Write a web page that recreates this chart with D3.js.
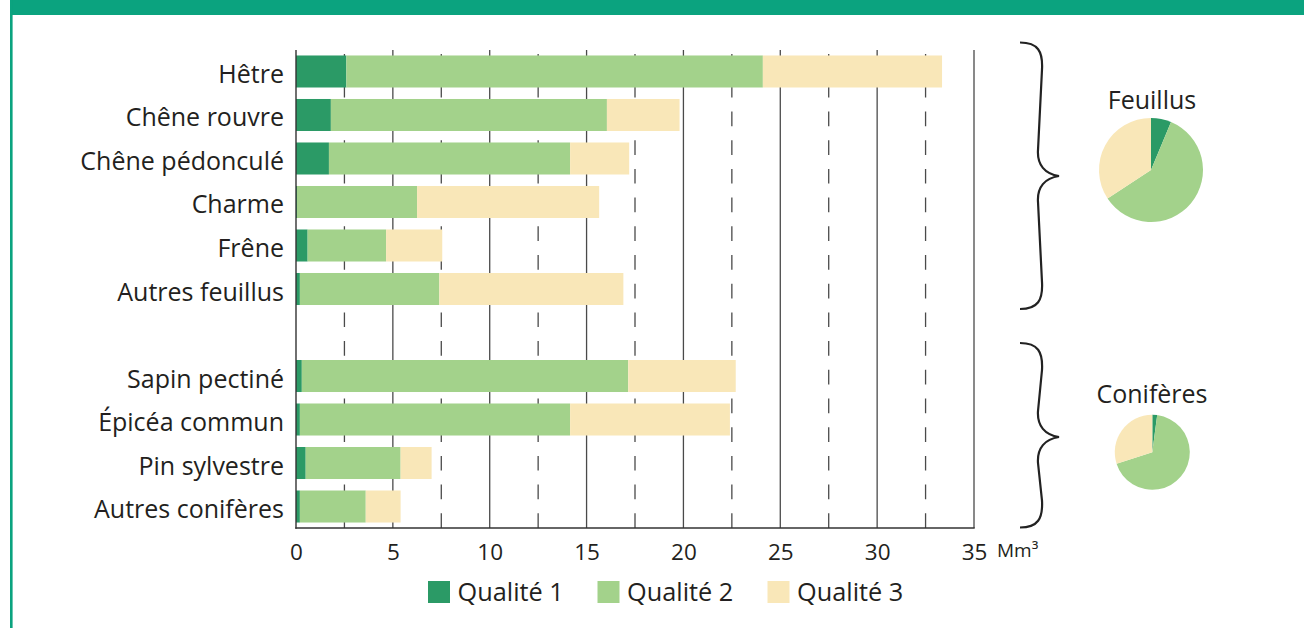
<!DOCTYPE html>
<html>
<head>
<meta charset="utf-8">
<script src="https://cdn.jsdelivr.net/npm/d3@7"></script>
<style>
  html, body { margin: 0; padding: 0; background: #fff; }
  svg { display: block; font-family: "Open Sans", "Noto Sans", sans-serif; }
</style>
</head>
<body>
<svg id="chart" width="1304" height="628"></svg>
<script>
// ---------------- DATA ----------------
const speciesFeuillus = ["Hêtre", "Chêne rouvre", "Chêne pédonculé", "Charme", "Frêne", "Autres feuillus"];
const speciesConiferes = ["Sapin pectiné", "Épicéa commun", "Pin sylvestre", "Autres conifères"];
const groupNames = ["Feuillus", "Conifères"];
// volumes in Mm³ by quality class
const qualite1Feuillus = [2.6, 1.8, 1.7, 0.05, 0.6, 0.2];
const qualite2Feuillus = [21.5, 14.25, 12.45, 6.2, 4.05, 7.2];
const qualite3Feuillus = [9.25, 3.75, 3.05, 9.4, 2.9, 9.5];
const qualite1Coniferes = [0.3, 0.2, 0.5, 0.2];
const qualite2Coniferes = [16.85, 13.95, 4.9, 3.4];
const qualite3Coniferes = [5.55, 8.25, 1.6, 1.8];
const qualityLabels = ["Qualité 1", "Qualité 2", "Qualité 3"];
const xTickValues = [0, 5, 10, 15, 20, 25, 30, 35];
const xGridValues = [2.5, 7.5, 12.5, 17.5, 22.5, 27.5, 32.5];
const unitLabel = "Mm³";

// ---------------- STYLE ----------------
const colors = ["#2b9a66", "#a3d28b", "#f9e7b8"];
const ink = "#231f20";
const gridColor = "#4a4a4a";
const headerGreen = "#0ba37f";
const keys = ["q1", "q2", "q3"];

// ---------------- BUILD ROWS ----------------
function rowsFor(names, a, b, c, group) {
  return names.map((n, i) => ({ name: n, q1: a[i], q2: b[i], q3: c[i], group }));
}
const rowsF = rowsFor(speciesFeuillus, qualite1Feuillus, qualite2Feuillus, qualite3Feuillus, groupNames[0]);
const rowsC = rowsFor(speciesConiferes, qualite1Coniferes, qualite2Coniferes, qualite3Coniferes, groupNames[1]);
const rows = rowsF.concat(rowsC);
const spacer = " ";
const yDomain = speciesFeuillus.concat([spacer], speciesConiferes);

const svg = d3.select("#chart");

// header band & left border
svg.append("rect").attr("x", 10).attr("y", 0).attr("width", 1294).attr("height", 15).attr("fill", headerGreen);
svg.append("rect").attr("x", 10).attr("y", 0).attr("width", 2.6).attr("height", 628).attr("fill", headerGreen);

// ---------------- SCALES ----------------
const x = d3.scaleLinear().domain([0, 35]).range([296, 974]);
const y = d3.scaleBand().domain(yDomain).range([50, 528]).paddingInner(0.264).paddingOuter(0.126);
const gridTop = 50, gridBottom = 528;

// gridlines
const g = svg.append("g");
g.selectAll("line.dash").data(xGridValues).join("line")
  .attr("class", "dash")
  .attr("x1", d => x(d)).attr("x2", d => x(d))
  .attr("y1", gridBottom).attr("y2", gridTop)
  .attr("stroke", gridColor).attr("stroke-width", 1.3)
  .attr("stroke-dasharray", "14.7 14");
g.selectAll("line.solid").data(xTickValues.filter(v => v > 0)).join("line")
  .attr("class", "solid")
  .attr("x1", d => x(d)).attr("x2", d => x(d))
  .attr("y1", gridBottom).attr("y2", gridTop)
  .attr("stroke", gridColor).attr("stroke-width", 1.3);

// stacked bars
const stacked = d3.stack().keys(keys)(rows);
svg.append("g").selectAll("g").data(stacked).join("g")
  .attr("fill", (d, i) => colors[i])
  .selectAll("rect").data(d => d).join("rect")
  .attr("x", d => x(d[0]))
  .attr("width", d => Math.max(0, x(d[1]) - x(d[0])))
  .attr("y", d => y(d.data.name))
  .attr("height", y.bandwidth());

// zero line and bottom axis line
svg.append("line").attr("x1", x(0)).attr("x2", x(0)).attr("y1", gridTop).attr("y2", gridBottom + 0.7)
  .attr("stroke", "#333").attr("stroke-width", 1.4);
svg.append("line").attr("x1", x(0) - 0.7).attr("x2", x(35) + 0.7).attr("y1", gridBottom).attr("y2", gridBottom)
  .attr("stroke", "#333").attr("stroke-width", 1.4);

// x axis labels
const xAxis = d3.axisBottom(x).tickValues(xTickValues).tickSize(0).tickFormat(d3.format("d"));
const xg = svg.append("g").attr("transform", `translate(0,${gridBottom})`).call(xAxis);
xg.select(".domain").remove();
xg.selectAll("text").attr("y", 32).attr("dy", 0)
  .attr("font-size", 22.5).attr("fill", ink).attr("font-family", "Open Sans, sans-serif");
svg.append("text").attr("x", 997).attr("y", 557).attr("font-size", 19).attr("fill", ink).text(unitLabel);

// y axis labels
const yAxis = d3.axisLeft(y).tickSize(0).tickPadding(12);
const yg = svg.append("g").attr("transform", `translate(${x(0)},0)`).call(yAxis);
yg.select(".domain").remove();
yg.selectAll(".tick").filter(d => d === spacer).remove();
yg.selectAll("text").attr("dy", "0.46em").attr("font-size", 25).attr("fill", ink)
  .attr("font-family", "Open Sans, sans-serif");

// legend
const legend = svg.append("g");
const legendX = [428, 597.5, 767.5];
qualityLabels.forEach((lab, i) => {
  legend.append("rect").attr("x", legendX[i]).attr("y", 581).attr("width", 22).attr("height", 22).attr("fill", colors[i]);
  legend.append("text").attr("x", legendX[i] + 29.5).attr("y", 601).attr("font-size", 25.3).attr("fill", ink).text(lab);
});

// braces
function bracePath(x0, top, bottom, mid) {
  const p = d3.path();
  p.moveTo(x0, top);
  p.bezierCurveTo(x0 + 18, top, x0 + 23, top + 9, x0 + 22, top + 27);
  p.lineTo(x0 + 18, mid - 26);
  p.bezierCurveTo(x0 + 17, mid - 11, x0 + 25, mid - 2, x0 + 39, mid);
  p.bezierCurveTo(x0 + 25, mid + 2, x0 + 17, mid + 11, x0 + 18, mid + 26);
  p.lineTo(x0 + 22, bottom - 27);
  p.bezierCurveTo(x0 + 23, bottom - 9, x0 + 18, bottom, x0, bottom);
  return p.toString();
}
const braceTop = [y(speciesFeuillus[0]) - 13, y(speciesConiferes[0]) - 17];
const braceBot = [y(speciesFeuillus[5]) + y.bandwidth() + 4, y(speciesConiferes[3]) + y.bandwidth() + 5];
const braceMid = [176, 437];
[0, 1].forEach(i => {
  svg.append("path").attr("d", bracePath(1020, braceTop[i], braceBot[i], braceMid[i]))
    .attr("fill", "none").attr("stroke", "#222").attr("stroke-width", 2.2);
});

// pies (sum of each quality by group)
const totalsF = [d3.sum(qualite1Feuillus), d3.sum(qualite2Feuillus), d3.sum(qualite3Feuillus)];
const totalsC = [d3.sum(qualite1Coniferes), d3.sum(qualite2Coniferes), d3.sum(qualite3Coniferes)];
const groupTotals = [totalsF, totalsC];
const r = d3.scaleSqrt().domain([0, d3.sum(totalsF)]).range([0, 52]);
const pieCenters = [[1151, 170], [1152.3, 452.3]];
const titleY = [109, 403];
const pie = d3.pie().sort(null);
groupTotals.forEach((tot, i) => {
  const rad = r(d3.sum(tot));
  const arc = d3.arc().innerRadius(0).outerRadius(rad);
  const pg = svg.append("g").attr("transform", `translate(${pieCenters[i][0]},${pieCenters[i][1]})`);
  pg.selectAll("path").data(pie(tot)).join("path").attr("d", arc).attr("fill", (d, j) => colors[j]);
  svg.append("text").attr("x", 1152).attr("y", titleY[i]).attr("text-anchor", "middle")
    .attr("font-size", 25).attr("fill", ink).text(groupNames[i]);
});
</script>
</body>
</html>
